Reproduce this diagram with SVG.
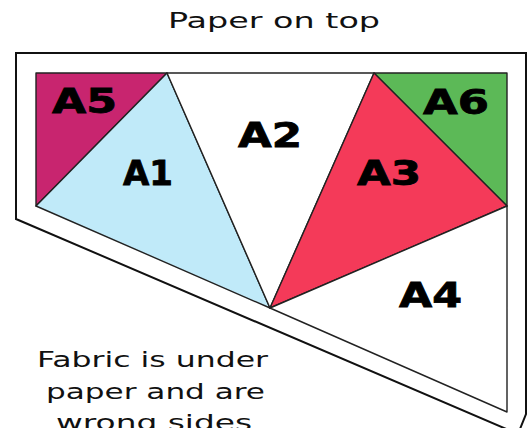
<svg xmlns="http://www.w3.org/2000/svg" width="527" height="428" viewBox="0 0 527 428">
<style>
.edge{fill:none;stroke:#111;stroke-width:2;stroke-linejoin:miter}
.tri{stroke:#222;stroke-width:1.4;stroke-linejoin:round}
.lbl{font-family:"DejaVu Sans",sans-serif;font-weight:bold;font-size:33px;fill:#000;stroke:#000;stroke-width:0.8}
.cap{font-family:"DejaVu Sans",sans-serif;font-size:21px;fill:#111}
</style>
<rect width="527" height="428" fill="#fff"/>
<g id="outline">
<polygon class="edge" points="16,53 526,53 526,414 518,434 16,219"/>
</g>
<g id="A5"><polygon class="tri" fill="#c8256f" points="36,73 167,73 36,206"/><text class="lbl" x="52" y="113" textLength="65" lengthAdjust="spacingAndGlyphs">A5</text></g>
<g id="A1"><polygon class="tri" fill="#c0eaf9" points="167,73 36,206 270,308"/><text class="lbl" x="123" y="185" textLength="50" lengthAdjust="spacingAndGlyphs">A1</text></g>
<g id="A2"><polygon class="tri" fill="#ffffff" points="167,73 374,73 270,308"/><text class="lbl" x="238" y="147" textLength="64" lengthAdjust="spacingAndGlyphs">A2</text></g>
<g id="A6"><polygon class="tri" fill="#5cb957" points="374,73 507,73 507,206"/><text class="lbl" x="423" y="114" textLength="66" lengthAdjust="spacingAndGlyphs">A6</text></g>
<g id="A3"><polygon class="tri" fill="#f43a59" points="374,73 507,206 270,308"/><text class="lbl" x="357" y="185" textLength="64" lengthAdjust="spacingAndGlyphs">A3</text></g>
<g id="A4"><polygon class="tri" fill="#ffffff" points="507,206 270,308 507,412"/><text class="lbl" x="399" y="307" textLength="63" lengthAdjust="spacingAndGlyphs">A4</text></g>
<g id="title"><text class="cap" x="168" y="28" textLength="212" lengthAdjust="spacingAndGlyphs">Paper on top</text></g>
<g id="note">
<text class="cap" x="37" y="367" textLength="231" lengthAdjust="spacingAndGlyphs">Fabric is under</text>
<text class="cap" x="46" y="399" textLength="219" lengthAdjust="spacingAndGlyphs">paper and are</text>
<text class="cap" x="56" y="430" textLength="196" lengthAdjust="spacingAndGlyphs">wrong sides</text>
</g>
</svg>
